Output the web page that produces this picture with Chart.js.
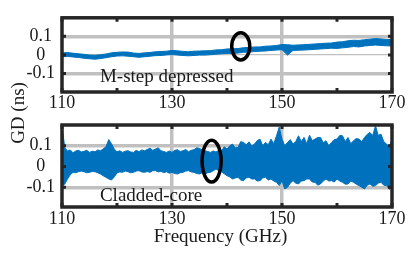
<!DOCTYPE html>
<html>
<head>
<meta charset="utf-8">
<script src="https://cdn.jsdelivr.net/npm/chart.js@4.4.1/dist/chart.umd.min.js"></script>
<style>
    html, body { margin: 0; padding: 0; background: #fff; }
    #wrap { position: relative; width: 412px; height: 259px; overflow: hidden; }
    canvas { position: absolute; left: 0; top: 0; }
    .lbl { position: absolute; font-family: "Liberation Serif", serif; font-size: 19px; color: #1a1a1a;
           text-align: center; line-height: 20px; white-space: nowrap; }
    #ylab { left: -32.5px; top: 102.5px; width: 100px; transform: rotate(-90deg); }
    #xlab { left: 120.5px; top: 225.5px; width: 200px; }
</style>
</head>
<body>
<div id="wrap">
    <canvas id="topChart" width="412" height="259"></canvas>
    <canvas id="botChart" width="412" height="259"></canvas>
    <div class="lbl" id="ylab">GD (ns)</div>
    <div class="lbl" id="xlab">Frequency (GHz)</div>
</div>
<script>
// tick labels
const xLabels = [110, 130, 150, 170];
const yLabels = [-0.1, 0, 0.1];

// M-step depressed: upper / lower edge of the trace, 1 GHz steps
const topFreq = [110,111,112,113,114,115,116,117,118,119,
                 120,121,122,123,124,125,126,127,128,129,
                 130,131,132,133,134,135,136,137,138,139,
                 140,141,142,143,144,145,146,147,148,149,
                 150,151,152,153,154,155,156,157,158,159,
                 160,161,162,163,164,165,166,167,168,169,170];
const topHi = [0.010,0.013,0.009,0.006,0.003,-0.001,-0.002,0.001,0.005,0.011,
               0.014,0.016,0.015,0.010,0.008,0.011,0.013,0.017,0.018,0.020,
               0.024,0.022,0.019,0.017,0.020,0.021,0.022,0.023,0.027,0.028,
               0.032,0.033,0.034,0.039,0.040,0.043,0.043,0.047,0.048,0.051,
               0.056,0.055,0.052,0.054,0.055,0.057,0.059,0.061,0.063,0.064,
               0.069,0.071,0.076,0.079,0.078,0.082,0.085,0.088,0.086,0.083,0.083];
const topLo = [-0.010,-0.008,-0.011,-0.014,-0.018,-0.021,-0.023,-0.020,-0.015,-0.010,
               -0.006,-0.005,-0.007,-0.010,-0.013,-0.010,-0.007,-0.004,-0.003,0.000,
               0.002,-0.001,-0.003,-0.005,-0.003,-0.001,-0.001,0.001,0.004,0.006,
               0.008,0.007,0.010,0.014,0.015,0.018,0.020,0.021,0.024,0.026,
               0.028,-0.001,0.024,0.025,0.026,0.028,0.030,0.032,0.034,0.036,
               0.035,0.038,0.041,0.045,0.043,0.048,0.051,0.053,0.051,0.049,0.048];

// Cladded-core: upper / lower edge of the noise band, 0.5 GHz steps
const botFreq = [110,110.5,111,111.5,112,112.5,113,113.5,114,114.5,
                 115,115.5,116,116.5,117,117.5,118,118.5,119,119.5,
                 120,120.5,121,121.5,122,122.5,123,123.5,124,124.5,
                 125,125.5,126,126.5,127,127.5,128,128.5,129,129.5,
                 130,130.5,131,131.5,132,132.5,133,133.5,134,134.5,
                 135,135.5,136,136.5,137,137.5,138,138.5,139,139.5,
                 140,140.5,141,141.5,142,142.5,143,143.5,144,144.5,
                 145,145.5,146,146.5,147,147.5,148,148.5,149,149.5,
                 150,150.5,151,151.5,152,152.5,153,153.5,154,154.5,
                 155,155.5,156,156.5,157,157.5,158,158.5,159,159.5,
                 160,160.5,161,161.5,162,162.5,163,163.5,164,164.5,
                 165,165.5,166,166.5,167,167.5,168,168.5,169,169.5,170];
const botHi = [0.20,0.09,0.075,0.08,0.066,0.075,0.078,0.07,0.073,0.078,
               0.068,0.074,0.071,0.08,0.076,0.085,0.095,0.13,0.11,0.084,
               0.071,0.076,0.068,0.074,0.076,0.07,0.068,0.078,0.071,0.08,
               0.076,0.082,0.088,0.078,0.084,0.09,0.076,0.072,0.068,0.075,
               0.068,0.078,0.081,0.072,0.076,0.082,0.071,0.078,0.081,0.09,
               0.087,0.08,0.076,0.072,0.068,0.075,0.07,0.078,0.076,0.095,
               0.084,0.10,0.108,0.09,0.092,0.12,0.116,0.105,0.119,0.098,
               0.108,0.125,0.132,0.1,0.116,0.105,0.132,0.11,0.148,0.19,
               0.132,0.10,0.116,0.13,0.108,0.12,0.148,0.12,0.14,0.11,
               0.151,0.125,0.132,0.14,0.14,0.115,0.124,0.1,0.116,0.13,
               0.132,0.15,0.148,0.12,0.14,0.11,0.124,0.135,0.132,0.12,
               0.14,0.155,0.164,0.15,0.196,0.15,0.156,0.12,0.108,0.095,0.13];
const botLo = [-0.09,-0.085,-0.06,-0.04,-0.028,-0.03,-0.025,-0.022,-0.025,-0.03,
               -0.028,-0.024,-0.025,-0.03,-0.036,-0.045,-0.052,-0.06,-0.065,-0.05,
               -0.031,-0.026,-0.028,-0.022,-0.025,-0.03,-0.028,-0.022,-0.02,-0.026,
               -0.028,-0.024,-0.028,-0.02,-0.02,-0.026,-0.023,-0.03,-0.025,-0.032,
               -0.028,-0.034,-0.036,-0.03,-0.028,-0.022,-0.02,-0.026,-0.028,-0.034,
               -0.036,-0.03,-0.036,-0.03,-0.028,-0.02,-0.012,-0.02,-0.025,-0.035,
               -0.044,-0.05,-0.06,-0.055,-0.052,-0.065,-0.068,-0.055,-0.052,-0.06,
               -0.06,-0.07,-0.068,-0.055,-0.052,-0.065,-0.06,-0.07,-0.076,-0.092,
               -0.068,-0.108,-0.1,-0.08,-0.068,-0.08,-0.084,-0.07,-0.068,-0.06,
               -0.06,-0.075,-0.076,-0.09,-0.084,-0.07,-0.06,-0.07,-0.068,-0.075,
               -0.06,-0.07,-0.076,-0.085,-0.084,-0.07,-0.076,-0.085,-0.092,-0.1,
               -0.108,-0.09,-0.084,-0.095,-0.092,-0.08,-0.076,-0.09,-0.092,-0.11,-0.1];

const BLUE = "#0072BD";
const GRID = "#c0c0c0";
const FRAME = "#262626";
const TEXT = "#1a1a1a";
const FONT = "'Liberation Serif', serif";

function pairs(xs, ys) {
    return xs.map((x, i) => ({ x: x, y: ys[i] }));
}

function isLabel(list, v) {
    return list.some(t => Math.abs(t - v) < 1e-6);
}

// label, ellipse, inward ticks and box frame
const notePlugin = {
    id: "note",
    afterDatasetsDraw(chart, args, opts) {
        const { ctx, chartArea: a, scales: { x, y } } = chart;
        ctx.save();

        ctx.font = "19px " + FONT;
        ctx.fillStyle = TEXT;
        ctx.textBaseline = "alphabetic";
        ctx.textAlign = "left";
        ctx.fillText(opts.text, x.getPixelForValue(opts.textAt[0]), y.getPixelForValue(opts.textAt[1]));

        const cx = x.getPixelForValue(opts.ring[0]);
        const cy = y.getPixelForValue(opts.ring[1]);
        const rx = x.getPixelForValue(opts.ring[0] + opts.ring[2]) - cx;
        const ry = cy - y.getPixelForValue(opts.ring[1] + opts.ring[3]);
        ctx.beginPath();
        ctx.ellipse(cx, cy, rx, ry, 0, 0, Math.PI * 2);
        ctx.lineWidth = 3.5;
        ctx.strokeStyle = "#000";
        ctx.stroke();

        ctx.strokeStyle = FRAME;
        ctx.lineWidth = 3;
        ctx.beginPath();
        x.ticks.forEach(t => {
            const px = x.getPixelForValue(t.value);
            ctx.moveTo(px, a.top); ctx.lineTo(px, a.top + 4);
            ctx.moveTo(px, a.bottom); ctx.lineTo(px, a.bottom - 4);
        });
        y.ticks.forEach(t => {
            if (!isLabel(yLabels, t.value)) return;
            const py = y.getPixelForValue(t.value);
            ctx.moveTo(a.left, py); ctx.lineTo(a.left + 4, py);
            ctx.moveTo(a.right, py); ctx.lineTo(a.right - 4, py);
        });
        ctx.stroke();

        ctx.lineWidth = 3.5;
        ctx.strokeRect(a.left, a.top, a.right - a.left, a.bottom - a.top);
        ctx.restore();
    }
};

function makeChart(id, freq, hi, lo, area, yMin, note) {
    return new Chart(document.getElementById(id), {
        type: "line",
        data: {
            datasets: [
                { data: pairs(freq, hi), borderColor: BLUE, backgroundColor: BLUE, borderWidth: 1,
                  pointRadius: 0, fill: "+1", tension: 0 },
                { data: pairs(freq, lo), borderColor: BLUE, borderWidth: 1,
                  pointRadius: 0, fill: false, tension: 0 }
            ]
        },
        options: {
            responsive: false,
            animation: false,
            layout: { padding: { top: area.top, right: 412 - area.right, left: 0, bottom: 0 } },
            plugins: {
                legend: { display: false },
                tooltip: { enabled: false },
                note: note
            },
            scales: {
                x: {
                    type: "linear",
                    min: 110,
                    max: 170,
                    afterFit: s => { s.height = 259 - area.bottom; },
                    border: { display: false },
                    grid: {
                        drawTicks: false,
                        lineWidth: 3.5,
                        color: c => (c.tick && (c.tick.value === 130 || c.tick.value === 150)) ? GRID : "rgba(0,0,0,0)"
                    },
                    ticks: {
                        stepSize: 10,
                        padding: area.tickPad,
                        autoSkip: false,
                        maxRotation: 0,
                        color: TEXT,
                        font: { family: FONT, size: 18 },
                        callback: v => isLabel(xLabels, v) ? String(v) : ""
                    }
                },
                y: {
                    min: yMin,
                    max: 0.2,
                    afterFit: s => { s.width = area.left; },
                    border: { display: false },
                    grid: {
                        drawTicks: false,
                        lineWidth: c => (c.tick && Math.abs(c.tick.value) < 1e-6) ? 1.2 : 3.5,
                        color: c => (c.tick && isLabel(yLabels, c.tick.value)) ? GRID : "rgba(0,0,0,0)"
                    },
                    ticks: {
                        stepSize: 0.1,
                        padding: 7,
                        autoSkip: false,
                        crossAlign: "center",
                        color: TEXT,
                        font: { family: FONT, size: 18 },
                        callback: v => {
                            if (!isLabel(yLabels, v)) return "";
                            return Math.abs(v) < 1e-6 ? "0" : v.toFixed(1);
                        }
                    }
                }
            }
        },
        plugins: [notePlugin]
    });
}

makeChart("topChart", topFreq, topHi, topLo,
    { left: 62, right: 392, top: 10, bottom: 92, tickPad: 0 }, -0.2,
    { text: "M-step depressed", textAt: [116.9, -0.144], ring: [142.5, 0.046, 1.64, 0.073] });

makeChart("botChart", botFreq, botHi, botLo,
    { left: 62, right: 392, top: 125, bottom: 207, tickPad: 1 }, -0.195,
    { text: "Cladded-core", textAt: [116.9, -0.164], ring: [137.2, 0.026, 1.73, 0.101] });
</script>
</body>
</html>
